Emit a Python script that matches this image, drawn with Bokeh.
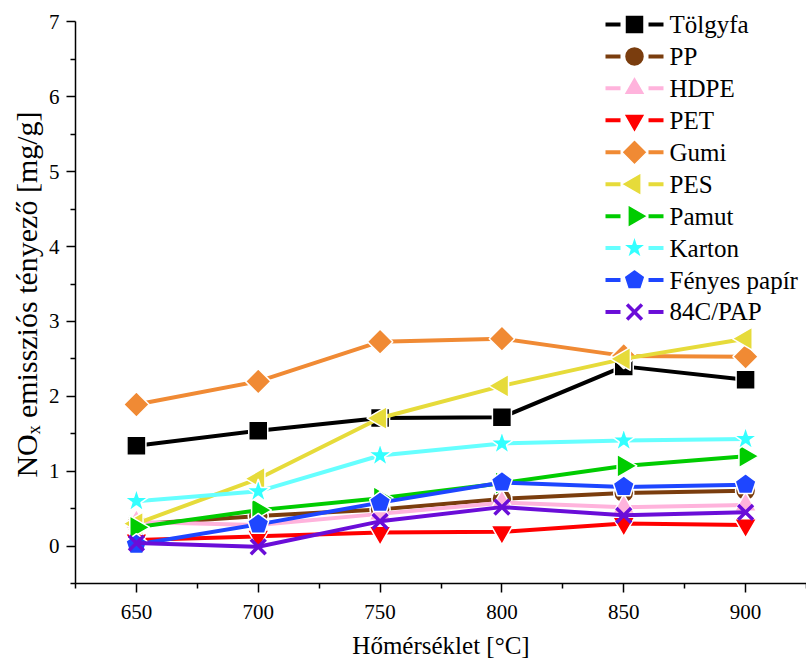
import math
from bokeh.plotting import figure
from bokeh.models import FixedTicker, Range1d, Title
from bokeh.core.properties import value
from bokeh.embed import file_html
from bokeh.resources import INLINE

temperatures = [650, 700, 750, 800, 850, 900]
tolgyfa = [1.34, 1.54, 1.71, 1.72, 2.40, 2.22]
pp = [0.29, 0.40, 0.49, 0.63, 0.71, 0.74]
hdpe = [0.32, 0.28, 0.43, 0.58, 0.52, 0.55]
pet = [0.08, 0.13, 0.18, 0.19, 0.30, 0.28]
gumi = [1.89, 2.20, 2.73, 2.77, 2.54, 2.53]
pes = [0.30, 0.90, 1.71, 2.14, 2.50, 2.77]
pamut = [0.25, 0.48, 0.64, 0.84, 1.07, 1.20]
karton = [0.60, 0.73, 1.21, 1.37, 1.41, 1.43]
fenyes_papir = [0.02, 0.29, 0.58, 0.85, 0.79, 0.82]
pap_84c = [0.04, -0.01, 0.33, 0.52, 0.41, 0.45]

series_names = ["Tölgyfa", "PP", "HDPE", "PET", "Gumi", "PES", "Pamut",
                "Karton", "Fényes papír", "84C/PAP"]
series_values = [tolgyfa, pp, hdpe, pet, gumi, pes, pamut, karton,
                 fenyes_papir, pap_84c]

x_ticks = [650, 700, 750, 800, 850, 900]
x_minor = [625, 675, 725, 775, 825, 875, 925]
y_ticks = [0, 1, 2, 3, 4, 5, 6, 7]
y_minor = [-0.5, 0.5, 1.5, 2.5, 3.5, 4.5, 5.5, 6.5]

x_title = "Hőmérséklet [°C]"
y_title = "NOₓ emissziós tényező [mg/g]"

styles = [
    dict(color="#000000", mcolor="#000000", marker="square", size=19, angle=0),
    dict(color="#7A3D0E", mcolor="#7A3D0E", marker="circle", size=20, angle=0),
    dict(color="#FFB3DC", mcolor="#FFB3DC", marker="triangle", size=22, angle=0),
    dict(color="#FF0000", mcolor="#FF0000", marker="inverted_triangle", size=22, angle=0),
    dict(color="#F08A34", mcolor="#F08A34", marker="square", size=18, angle=math.pi / 4),
    dict(color="#E6DB3A", mcolor="#E6DB3A", marker="triangle", size=23, angle=math.pi / 2),
    dict(color="#00CC00", mcolor="#00CC00", marker="triangle", size=23, angle=-math.pi / 2),
    dict(color="#66FFFF", mcolor="#33FFFF", marker="star", size=25, angle=0),
    dict(color="#1E46FF", mcolor="#1E46FF", marker="pentagon", size=11, angle=0),
    dict(color="#6A0DD8", mcolor="#6A0DD8", marker="x", size=21, angle=0),
]

FONT = "Liberation Serif"
W, H = 806, 661
BL, BR, BT, BB = 75, 0, 5, 77

p = figure(width=W, height=H, output_backend="svg", toolbar_location=None,
           x_range=Range1d(625, 925), y_range=Range1d(-0.5, 7.22),
           min_border_left=BL, min_border_right=BR, min_border_top=BT,
           min_border_bottom=BB)
p.outline_line_color = None
p.xgrid.visible = False
p.ygrid.visible = False

# pixel-space ranges for the hand-built legend (y grows downward)
p.extra_x_ranges = {"px": Range1d(BL, W - BR)}
p.extra_y_ranges = {"py": Range1d(H - BB, BT)}


def draw_marker(st, xs, ys, **kw):
    if st["marker"] == "pentagon":
        return p.ngon(xs, ys, radius=st["size"], radius_units="screen", n=5,
                      fill_color=st["mcolor"], line_color="white",
                      line_width=1.5, **kw)
    if st["marker"] == "x":
        return p.scatter(xs, ys, marker="x", size=st["size"],
                         line_color=st["mcolor"], line_width=3.5, **kw)
    return p.scatter(xs, ys, marker=st["marker"], size=st["size"],
                     angle=st["angle"], fill_color=st["mcolor"],
                     line_color="white", line_width=1.5, **kw)


for vals, st in zip(series_values, styles):
    p.line(temperatures, vals, line_color=st["color"], line_width=4)
    draw_marker(st, temperatures, vals)

# legend
leg_top, leg_step = 24, 32
seg_left = (605, 620)
seg_right = (648, 663)
mark_x = 634
text_x = 669
for i, (name, st) in enumerate(zip(series_names, styles)):
    yy = leg_top + leg_step * i
    p.segment(x0=[seg_left[0], seg_right[0]], y0=[yy, yy],
              x1=[seg_left[1], seg_right[1]], y1=[yy, yy],
              line_color=st["color"], line_width=4,
              x_range_name="px", y_range_name="py")
    draw_marker(st, [mark_x], [yy], x_range_name="px", y_range_name="py")
p.text(x=[text_x] * len(series_names),
       y=[leg_top + leg_step * i for i in range(len(series_names))],
       text=series_names, text_font=value(FONT), text_font_size="25px",
       text_baseline="middle", text_align="left", text_color="black",
       x_range_name="px", y_range_name="py")

p.xaxis.ticker = FixedTicker(ticks=x_ticks, minor_ticks=x_minor)
p.yaxis.ticker = FixedTicker(ticks=y_ticks, minor_ticks=y_minor)
p.yaxis.bounds = (-0.5, 7)
p.xaxis.axis_label = x_title
for ax in (p.xaxis, p.yaxis):
    ax.axis_line_width = 1.5
    ax.axis_line_color = "black"
    ax.major_tick_line_width = 1.5
    ax.minor_tick_line_width = 1.5
    ax.major_tick_in = 0
    ax.major_tick_out = 9
    ax.minor_tick_in = 0
    ax.minor_tick_out = 5
    ax.major_label_text_font = FONT
    ax.major_label_text_font_size = "21px"
    ax.major_label_text_color = "black"
    ax.axis_label_text_font = FONT
    ax.axis_label_text_font_size = "25px"
    ax.axis_label_text_font_style = "normal"
    ax.axis_label_text_color = "black"
p.xaxis.major_label_standoff = 12
p.yaxis.major_label_standoff = 7
p.xaxis.axis_label_standoff = 10

# y title as a left-side title, placed like the reference
p.add_layout(Title(text=y_title, align="center", offset=-3,
                   text_font=FONT, text_font_size="30px",
                   text_font_style="normal", text_color="black",
                   standoff=6), "left")

open("out.html", "w").write(file_html(p, INLINE))
